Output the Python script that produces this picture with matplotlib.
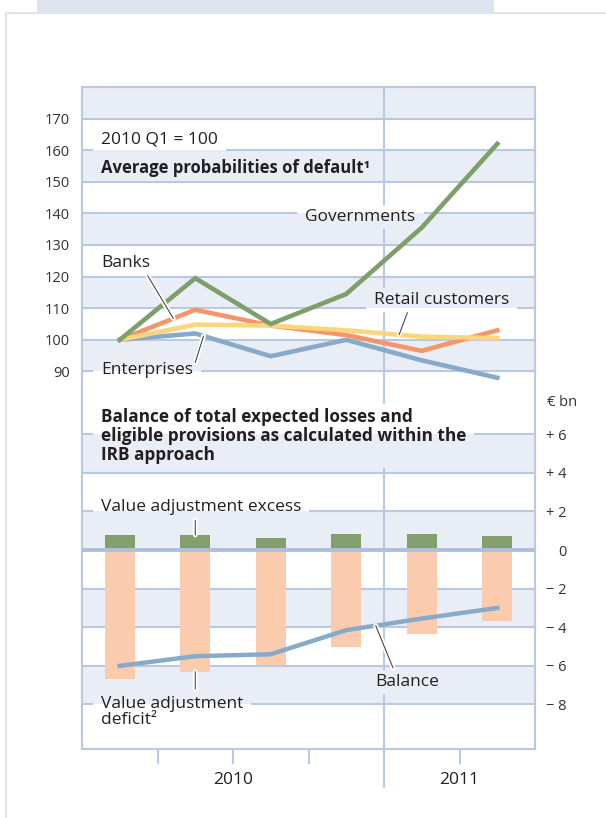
import numpy as np
import matplotlib.pyplot as plt
from matplotlib.patches import Rectangle
from matplotlib import patheffects as pe
from matplotlib.transforms import blended_transform_factory

plt.rcParams['font.family'] = ['Open Sans', 'DejaVu Sans']

# data (2010 Q1 ... 2011 Q2)
quarters = np.arange(6)
governments = [100, 119.5, 105, 114.5, 135.5, 162]
banks = [100, 109.5, 104.5, 101.5, 96.5, 103]
retail = [100, 104.8, 104.5, 103, 101, 100.5]
enterprises = [100, 102, 94.8, 100, 93.5, 88]
excess = [0.78, 0.78, 0.6, 0.83, 0.85, 0.74]
deficit = [-6.7, -6.3, -5.95, -5.0, -4.35, -3.7]
balance = [-6.0, -5.5, -5.4, -4.15, -3.55, -3.0]
years = ['2010', '2011']
year_pos = [1.5, 4.5]
top_ticks = [90, 100, 110, 120, 130, 140, 150, 160, 170]
bot_ticks = [6, 4, 2, 0, -2, -4, -6, -8]
bot_labels = ['+ 6', '+ 4', '+ 2', '0', '\u2212 2', '\u2212 4', '\u2212 6', '\u2212 8']

GRID = '#b9c9e2'
SHADE = '#e9eef6'
TXT = '#231f20'
GREEN = '#7f9f6a'
ORANGE = '#f5956a'
YELLOW = '#fdd57b'
BLUE = '#87aacb'
PEACH = '#fbcbad'

W, H = 606, 818
fig = plt.figure(figsize=(W / 100, H / 100), dpi=100)

def fx(px):
    return px / W

def fy(px):
    return 1 - px / H

# page decoration
fig.patches.append(Rectangle((fx(37), fy(12)), fx(494 - 37), 12 / H, transform=fig.transFigure,
                             fc='#dde4ef', ec='none'))
fig.lines.append(plt.Line2D([fx(6), 1], [fy(12.5), fy(12.5)], transform=fig.transFigure, color='#e0e6ef', lw=1.5))
fig.lines.append(plt.Line2D([fx(6), fx(6)], [fy(12.5), 0], transform=fig.transFigure, color='#e0e6ef', lw=1.5))

ax1 = fig.add_axes([fx(82), fy(403), fx(535 - 82), (403 - 87) / H])
ax2 = fig.add_axes([fx(82), fy(749), fx(535 - 82), (749 - 403) / H])

top_lim = (80, 180)
bot_lim = (-10.31, 7.62)
top_bands = [(lo, lo + 10, SHADE if (lo // 10) % 2 == 1 else 'white') for lo in range(80, 180, 10)]
bot_edges = [bot_lim[0], -8, -6, -4, -2, 0, 2, 4, 6, bot_lim[1]]
bot_bands = []
for i in range(len(bot_edges) - 1):
    bot_bands.append((bot_edges[i], bot_edges[i + 1], SHADE if i % 2 == 1 else 'white'))

for ax, lim, bands in [(ax1, top_lim, top_bands), (ax2, bot_lim, bot_bands)]:
    ax.set_xlim(-0.5, 5.5)
    ax.set_ylim(*lim)
    for lo, hi, c in bands:
        ax.axhspan(lo, hi, color=c, lw=0, zorder=0)
    ax.axvline(3.5, color=GRID, lw=1.5, zorder=1)
    for s in ax.spines.values():
        s.set_color(GRID)
        s.set_linewidth(1.5)

ax1.spines['bottom'].set_visible(False)
ax2.spines['top'].set_visible(False)

# top chart
for v in top_ticks:
    ax1.axhline(v, color=GRID, lw=1.5, zorder=1)
ax1.set_yticks(top_ticks)
ax1.set_xticks([])
ax1.tick_params(axis='y', length=0, pad=8.5, labelsize=10.5, labelcolor='#333333')

ax1.plot(quarters, enterprises, color=BLUE, lw=3.3, zorder=3, solid_joinstyle='miter')
ax1.plot(quarters, banks, color=ORANGE, lw=3.3, zorder=3.1, solid_joinstyle='miter')
ax1.plot(quarters, retail, color=YELLOW, lw=3.3, zorder=3.2, solid_joinstyle='miter')
ax1.plot(quarters, governments, color=GREEN, lw=3.3, zorder=3.3, solid_joinstyle='miter')

# bottom chart
for v in bot_ticks:
    if v != 0:
        ax2.axhline(v, color=GRID, lw=1.5, zorder=1)
ax2.axhline(0, color='#aebfdc', lw=2.8, zorder=3.5)
ax2.bar(quarters, excess, width=0.4, color='#839f6c', zorder=2.5)
ax2.bar(quarters, deficit, width=0.4, color=PEACH, zorder=2.5)
ax2.plot(quarters, balance, color=BLUE, lw=3.2, zorder=4)

ax2.yaxis.tick_right()
ax2.set_yticks(bot_ticks)
ax2.set_yticklabels(bot_labels)
ax2.tick_params(axis='y', length=0, pad=23, labelsize=10.5, labelcolor='#333333')
for lab in ax2.get_yticklabels():
    lab.set_horizontalalignment('right')

ax2.set_xticks([0.5, 1.5, 2.5, 4.5])
ax2.set_xticklabels([])
ax2.tick_params(axis='x', length=10.8, width=1.5, color=GRID, direction='out')
ax2.axvline(3.5, ymin=-0.11, ymax=0, color=GRID, lw=1.5, clip_on=False)
btrans = blended_transform_factory(ax2.transData, ax2.transAxes)
for yr, xp in zip(years, year_pos):
    ax2.text(xp, -0.09, yr, transform=btrans, ha='center', va='center', fontsize=12.5, color=TXT)

rtrans = blended_transform_factory(ax2.transAxes, ax2.transData)
ax2.text(1.0265, 7.62, '\u20ac bn', transform=rtrans, ha='left', va='center', fontsize=10.5, color='#333333')

# labels
lab_kw = dict(fontsize=12.5, color=TXT, va='center', ha='left', zorder=6)
texts1 = [
    ax1.text(-0.25, 163.4, '2010 Q1 = 100', **lab_kw),
    ax1.text(-0.25, 154.5, 'Average probabilities of default\u00b9', fontweight='bold',
             **{**lab_kw, 'fontsize': 12}),
    ax1.text(2.46, 139.0, 'Governments', **lab_kw),
    ax1.text(-0.25, 124.4, 'Banks', **lab_kw),
    ax1.text(3.37, 112.7, 'Retail customers', **lab_kw),
    ax1.text(-0.25, 90.6, 'Enterprises', **lab_kw),
]
texts2 = [
    ax2.text(-0.25, 5.91, 'Balance of total expected losses and\neligible provisions as calculated within the\nIRB approach',
             fontweight='bold', linespacing=1.1, **{**lab_kw, 'fontsize': 12.4}),
    ax2.text(-0.25, 2.23, 'Value adjustment excess', **lab_kw),
    ax2.text(-0.25, -8.39, 'Value adjustment\ndeficit\u00b2', linespacing=1.05, **lab_kw),
    ax2.text(3.39, -6.84, 'Balance', **lab_kw),
]

# leader lines
halo = [pe.withStroke(linewidth=3.5, foreground='white')]
leader_kw = dict(arrowprops=dict(arrowstyle='-', color='#333333', lw=0.7, shrinkA=0, shrinkB=0,
                                 path_effects=halo), zorder=5)

def on(series, x):
    return np.interp(x, quarters, series)

ax1.annotate('', xy=(0.71, on(banks, 0.71)), xytext=(0.37, 120.3), **leader_kw)
ax1.annotate('', xy=(1.11, on(enterprises, 1.11)), xytext=(1.0, 92.8), **leader_kw)
ax1.annotate('', xy=(3.70, on(retail, 3.70)), xytext=(3.81, 108.6), **leader_kw)
ax2.annotate('', xy=(3.39, on(balance, 3.39)), xytext=(3.62, -6.11), **leader_kw)
ax2.annotate('', xy=(1.0, excess[1]), xytext=(1.0, 1.55), **leader_kw)
ax2.annotate('', xy=(1.0, deficit[1]), xytext=(1.0, -7.2), **leader_kw)

# knock out grid lines behind labels
fig.canvas.draw()
renderer = fig.canvas.get_renderer()

def knock(ax, txt, bands, padx=8, pady=4):
    bb = txt.get_window_extent(renderer)
    inv = ax.transData.inverted()
    x0, y0 = inv.transform((bb.x0 - padx, bb.y0 - pady))
    x1, y1 = inv.transform((bb.x1 + padx, bb.y1 + pady))
    for lo, hi, c in bands:
        a, b = max(lo, y0), min(hi, y1)
        if b > a:
            ax.add_patch(Rectangle((x0, a), x1 - x0, b - a, fc=c, ec='none', zorder=1.5))

for t in texts1:
    knock(ax1, t, top_bands)
for t in texts2:
    knock(ax2, t, bot_bands)

fig.savefig('out.png', dpi=100)
